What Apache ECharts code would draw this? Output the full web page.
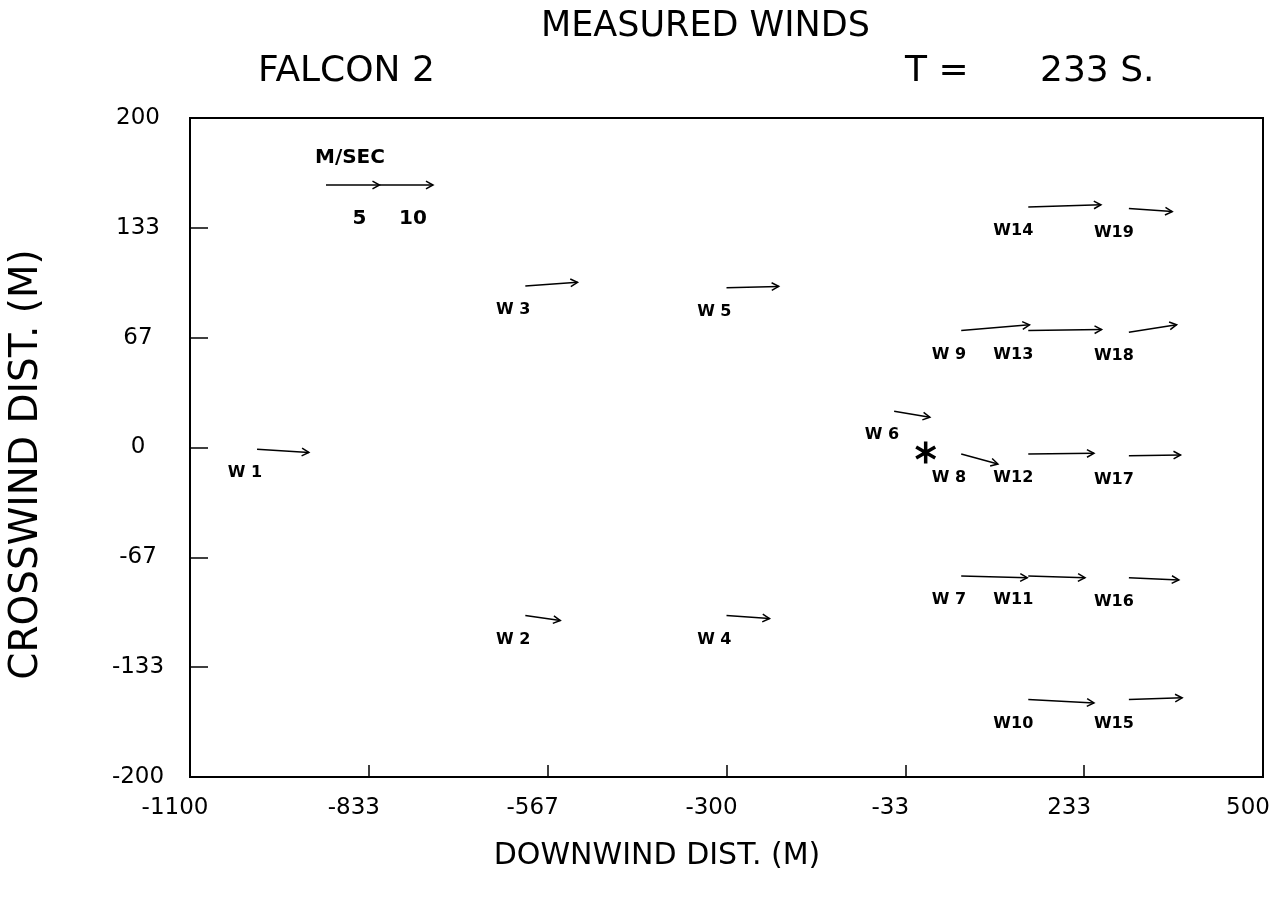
<!DOCTYPE html>
<html><head><meta charset="utf-8">
<script src="https://cdn.jsdelivr.net/npm/echarts@6/dist/echarts.min.js"></script>
<style>html,body{margin:0;padding:0;background:#fff}#chart{width:1274px;height:898px}</style>
</head><body><div id="chart"></div>
<script>
// ---- data ----
const stationNames = ['W 1','W 2','W 3','W 4','W 5','W 6','W 7','W 8','W 9','W10','W11','W12','W13','W14','W15','W16','W17','W18','W19'];
const stationX = [-1000,-600,-600,-300,-300,-50,50,50,50,150,150,150,150,150,300,300,300,300,300];
const stationY = [-1,-102,98,-102,97,22,-78,-4,71,-153,-78,-4,71,146,-153,-79,-5,70,145];
const windU = [4.84,3.27,4.88,4.02,4.88,3.34,6.17,3.43,6.38,6.14,5.30,6.14,6.85,6.79,4.98,4.67,4.83,4.46,4.05];
const windV = [-0.31,-0.47,0.35,-0.28,0.12,-0.56,-0.16,-0.93,0.53,-0.31,-0.16,0.07,0.09,0.21,0.16,-0.21,0.07,0.70,-0.28];
const sourceX = [-3];
const sourceY = [-3];
const legendSpeeds = [5, 10];
const legendLabels = ['5', '10'];
const xTickValues = [-1100, -833.33, -566.67, -300, -33.33, 233.33, 500];
const xTickLabels = ['-1100', '-833', '-567', '-300', '-33', '233', '500'];
const yTickValues = [-200, -133.33, -66.67, 0, 66.67, 133.33, 200];
const yTickLabels = ['-200', '-133', '-67', '0', '67', '133', '200'];

// ---- styling constants ----
const PX_PER_MS = 10.7;           // arrow pixels per m/s
const FONT = '"DejaVu Sans", sans-serif';
const LEG_ORIGIN = [326, 185];

function labelFor(v, vals, labs) {
  for (let i = 0; i < vals.length; i++) if (Math.abs(vals[i] - v) < 0.01) return labs[i];
  return '';
}

function arrowChildren(p, q) {
  const ang = Math.atan2(q[1] - p[1], q[0] - p[0]);
  const L = 8, a = 0.5;
  const h1 = [q[0] - L * Math.cos(ang - a), q[1] - L * Math.sin(ang - a)];
  const h2 = [q[0] - L * Math.cos(ang + a), q[1] - L * Math.sin(ang + a)];
  return [
    { type: 'line', shape: { x1: p[0], y1: p[1], x2: q[0], y2: q[1] }, style: { stroke: '#000', lineWidth: 1.5 } },
    { type: 'polyline', shape: { points: [h1, q, h2] }, style: { stroke: '#000', fill: null, lineWidth: 1.5 } }
  ];
}

const windData = stationNames.map((n, i) => [stationX[i], stationY[i], windU[i], windV[i]]);
const legendData = legendSpeeds.map((s, i) => [i ? legendSpeeds[i - 1] : 0, s]);

const chart = echarts.init(document.getElementById('chart'));
chart.setOption({
  backgroundColor: '#fff',
  animation: false,
  grid: { left: 190, right: 11, top: 118, bottom: 121, show: true, borderColor: '#000', borderWidth: 2,
    containLabel: false, outerBoundsMode: 'none' },
  xAxis: {
    type: 'value', min: -1100, max: 500,
    axisLine: { show: true, onZero: false, lineStyle: { color: '#000', width: 2 } },
    axisTick: { show: true, inside: true, length: 12, customValues: xTickValues, lineStyle: { color: '#000', width: 1.5 } },
    axisLabel: { customValues: xTickValues, formatter: v => labelFor(v, xTickValues, xTickLabels),
      margin: 20, color: '#000', fontFamily: FONT, fontSize: 23, padding: [0, 30, 0, 0] },
    splitLine: { show: false },
    name: 'DOWNWIND DIST. (M)', nameLocation: 'middle', nameGap: 64,
    nameTextStyle: { color: '#000', fontFamily: FONT, fontSize: 30, padding: [0, 139, 0, 0] }
  },
  yAxis: {
    type: 'value', min: -200, max: 200,
    axisLine: { show: true, onZero: false, lineStyle: { color: '#000', width: 2 } },
    axisTick: { show: true, inside: true, length: 18, customValues: yTickValues, lineStyle: { color: '#000', width: 1.5 } },
    axisLabel: { customValues: yTickValues, formatter: v => labelFor(v, yTickValues, yTickLabels),
      margin: 52, align: 'center', color: '#000', fontFamily: FONT, fontSize: 23 },
    splitLine: { show: false },
    name: 'CROSSWIND DIST. (M)', nameLocation: 'middle', nameGap: 144,
    nameTextStyle: { color: '#000', fontFamily: FONT, fontSize: 39, padding: [0, 34, 0, 0] }
  },
  graphic: [
    { type: 'text', left: 541, top: 9, style: { text: 'MEASURED WINDS', font: '35px ' + FONT, fill: '#000' } },
    { type: 'text', left: 258, top: 54, style: { text: 'FALCON 2', font: '36px ' + FONT, fill: '#000' } },
    { type: 'text', left: 905, top: 54, style: { text: 'T =', font: '36px ' + FONT, fill: '#000' } },
    { type: 'text', left: 1040, top: 54, style: { text: '233 S.', font: '36px ' + FONT, fill: '#000' } },
    { type: 'text', left: 315, top: 148, style: { text: 'M/SEC', font: 'bold 20px ' + FONT, fill: '#000' } }
  ],
  series: [
    {
      type: 'custom', name: 'winds', coordinateSystem: 'cartesian2d',
      data: windData,
      renderItem: function (params, api) {
        const p = api.coord([api.value(0), api.value(1)]);
        const q = [p[0] + api.value(2) * PX_PER_MS, p[1] - api.value(3) * PX_PER_MS];
        const kids = arrowChildren(p, q);
        kids.push({ type: 'text', x: p[0] + 5, y: p[1] + 24,
          style: { text: stationNames[params.dataIndex], align: 'right', verticalAlign: 'middle', font: 'bold 16px ' + FONT, fill: '#000' } });
        return { type: 'group', children: kids };
      }
    },
    {
      type: 'custom', name: 'scale', coordinateSystem: 'none',
      data: legendData,
      renderItem: function (params, api) {
        const p = [LEG_ORIGIN[0] + api.value(0) * PX_PER_MS, LEG_ORIGIN[1]];
        const q = [LEG_ORIGIN[0] + api.value(1) * PX_PER_MS, LEG_ORIGIN[1]];
        const kids = arrowChildren(p, q);
        kids.push({ type: 'text', x: q[0] - 20, y: q[1] + 34,
          style: { text: legendLabels[params.dataIndex], align: 'center', verticalAlign: 'middle', font: 'bold 20px ' + FONT, fill: '#000' } });
        return { type: 'group', children: kids };
      }
    },
    {
      type: 'scatter', name: 'source',
      data: sourceX.map((x, i) => [x, sourceY[i]]),
      symbol: 'path://M10,0L10,20M1.34,5L18.66,15M1.34,15L18.66,5',
      symbolKeepAspect: true, symbolSize: 22,
      itemStyle: { color: 'none', borderColor: '#000', borderWidth: 3.5, opacity: 1 }
    }
  ]
});
</script></body></html>
